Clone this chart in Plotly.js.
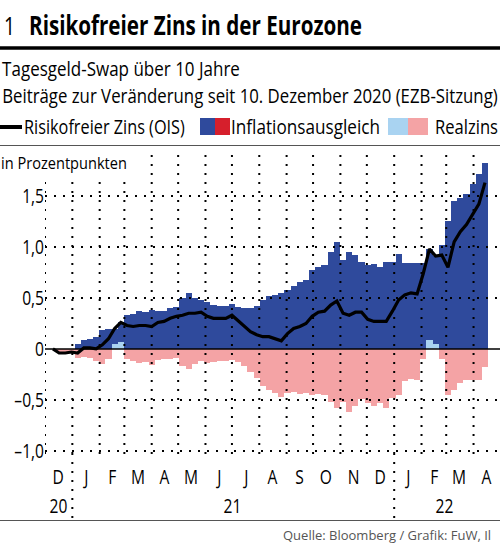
<!DOCTYPE html>
<html>
<head>
<meta charset="utf-8">
<script src="https://cdn.plot.ly/plotly-3.0.1.min.js"></script>
<style>
html,body{margin:0;padding:0;background:#fff;}
#chart{width:500px;height:545px;}
</style>
</head>
<body>
<div id="chart"></div>
<script>
// ---------- data ----------
const dates = ['2020-12-10','2020-12-17','2020-12-24','2020-12-31','2021-01-07','2021-01-14','2021-01-21','2021-01-28','2021-02-04','2021-02-11','2021-02-18','2021-02-25','2021-03-04','2021-03-11','2021-03-18','2021-03-25','2021-04-01','2021-04-08','2021-04-15','2021-04-22','2021-04-29','2021-05-06','2021-05-13','2021-05-20','2021-05-27','2021-06-03','2021-06-10','2021-06-17','2021-06-24','2021-07-01','2021-07-08','2021-07-15','2021-07-22','2021-07-29','2021-08-05','2021-08-12','2021-08-19','2021-08-26','2021-09-02','2021-09-09','2021-09-16','2021-09-23','2021-09-30','2021-10-07','2021-10-14','2021-10-21','2021-10-28','2021-11-04','2021-11-11','2021-11-18','2021-11-25','2021-12-02','2021-12-09','2021-12-16','2021-12-23','2021-12-30','2022-01-06','2022-01-13','2022-01-20','2022-01-27','2022-02-03','2022-02-10','2022-02-17','2022-02-24','2022-03-03','2022-03-10','2022-03-17','2022-03-24','2022-03-31','2022-04-07','2022-04-14'];

const inflation = [0.00,0.00,-0.01,-0.01,0.05,0.09,0.10,0.12,0.19,0.20,0.15,0.19,0.33,0.34,0.37,0.36,0.38,0.37,0.37,0.40,0.41,0.50,0.55,0.50,0.48,0.46,0.43,0.42,0.42,0.44,0.41,0.40,0.40,0.42,0.48,0.52,0.53,0.55,0.58,0.62,0.66,0.68,0.77,0.80,0.82,0.95,1.05,0.87,0.95,0.92,0.85,0.82,0.83,0.80,0.85,0.85,0.93,0.84,0.84,0.84,0.84,0.89,0.86,1.02,1.25,1.45,1.48,1.52,1.62,1.72,1.82];

const realzins = [0.00,-0.04,-0.03,-0.02,-0.09,-0.08,-0.09,-0.12,-0.15,-0.10,0.05,0.07,-0.10,-0.12,-0.14,-0.13,-0.16,-0.11,-0.10,-0.10,-0.09,-0.17,-0.20,-0.15,-0.12,-0.14,-0.13,-0.12,-0.12,-0.11,-0.13,-0.17,-0.23,-0.28,-0.36,-0.40,-0.43,-0.47,-0.43,-0.42,-0.44,-0.43,-0.45,-0.44,-0.45,-0.52,-0.58,-0.52,-0.62,-0.56,-0.49,-0.53,-0.56,-0.53,-0.58,-0.48,-0.45,-0.31,-0.29,-0.30,-0.10,0.09,0.05,-0.10,-0.45,-0.40,-0.33,-0.30,-0.30,-0.30,-0.18];

const ois = [0.00,-0.04,-0.04,-0.03,-0.04,0.01,0.01,0.00,0.04,0.10,0.20,0.26,0.23,0.22,0.23,0.23,0.22,0.26,0.27,0.30,0.32,0.33,0.35,0.35,0.36,0.32,0.30,0.30,0.30,0.33,0.28,0.23,0.17,0.14,0.12,0.12,0.10,0.08,0.15,0.20,0.22,0.25,0.32,0.36,0.37,0.43,0.47,0.35,0.33,0.36,0.36,0.29,0.27,0.27,0.27,0.37,0.48,0.53,0.55,0.54,0.74,0.98,0.91,0.92,0.80,1.05,1.15,1.22,1.32,1.42,1.63];

const yTickVals = [-1.0,-0.5,0,0.5,1.0,1.5];
const yTickText = ['\u20131,0','\u20130,5','0','0,5','1,0','1,5'];
const monthStarts = ['2020-12-01','2021-01-01','2021-02-01','2021-03-01','2021-04-01','2021-05-01','2021-06-01','2021-07-01','2021-08-01','2021-09-01','2021-10-01','2021-11-01','2021-12-01','2022-01-01','2022-02-01','2022-03-01','2022-04-01'];
const monthMids = ['2020-12-16','2021-01-16','2021-02-15','2021-03-16','2021-04-16','2021-05-16','2021-06-16','2021-07-16','2021-08-16','2021-09-16','2021-10-16','2021-11-16','2021-12-16','2022-01-16','2022-02-15','2022-03-16','2022-04-16'];
const monthLabels = ['D','J','F','M','A','M','J','J','A','S','O','N','D','J','F','M','A'];
const yearLabels = ['20','21','22'];
const yearPos = ['2020-12-16','2021-07-02','2022-02-27'];
const yearBreaks = ['2021-01-01','2022-01-01'];

// ---------- styling ----------
const FONT = "'Open Sans', 'Noto Sans', sans-serif";
const BLUE = '#2f4a9c', RED = '#d61f2c', LBLUE = '#a9d3f1', PINK = '#f4a3a5';
const W = 500, H = 545, ML = 45, MR = 0, MT = 148, MB = 91;
const PW = W - ML - MR, PH = H - MT - MB;
const px = x => (x - ML) / PW;
const py = y => (H - MB - y) / PH;
const DOT = '2px,7px';
const CONDENSE = 0.78;

const shapes = [];
monthStarts.forEach(d => shapes.push({type:'line', xref:'x', yref:'paper', x0:d, x1:d, y0:0, y1:1,
  line:{color:'#000', width:2, dash:DOT}, layer:'above'}));
yearBreaks.forEach(d => shapes.push({type:'line', xref:'x', yref:'paper', x0:d, x1:d, y0:py(518), y1:0,
  line:{color:'#000', width:2, dash:DOT}, layer:'above'}));
yTickVals.filter(v => v !== 0).forEach(v => shapes.push({type:'line', xref:'paper', yref:'y', x0:0, x1:1, y0:v, y1:v,
  line:{color:'#000', width:2, dash:DOT}, layer:'above'}));
shapes.push({type:'line', xref:'paper', yref:'y', x0:0, x1:1, y0:0, y1:0, line:{color:'#000', width:1.6}, layer:'above'});
shapes.push({type:'line', xref:'paper', yref:'paper', x0:px(0), x1:px(500), y0:py(48), y1:py(48), line:{color:'#000', width:3.5}});
shapes.push({type:'line', xref:'paper', yref:'paper', x0:px(0), x1:px(500), y0:py(145.5), y1:py(145.5), line:{color:'#555', width:1}});
shapes.push({type:'line', xref:'paper', yref:'paper', x0:px(0), x1:px(500), y0:py(520.5), y1:py(520.5), line:{color:'#555', width:1}});
shapes.push({type:'line', xref:'paper', yref:'paper', x0:px(0), x1:px(22), y0:py(127), y1:py(127), line:{color:'#000', width:4}});
[[200,215,BLUE],[215,230,RED],[388,408,LBLUE],[408,428,PINK]].forEach(s => shapes.push({type:'rect', xref:'paper', yref:'paper',
  x0:px(s[0]), x1:px(s[1]), y0:py(135), y1:py(118), fillcolor:s[2], line:{width:0}}));

const ann = [];
const fit = [];   // per annotation: target width in px (left-anchored) or a scale factor (centered)
function txt(text, x, y, size, width, opts) {
  ann.push(Object.assign({text:text, xref:'paper', yref:'paper', x:px(x), y:py(y), xanchor:'left', yanchor:'middle',
    showarrow:false, font:{family:FONT, size:size, color:'#000'}}, opts || {}));
  fit.push(width ? {w:width} : null);
}
txt('1', 2, 25, 26, 11);
txt('<b>Risikofreier Zins in der Eurozone</b>', 27, 25, 26, 333);
txt('Tagesgeld-Swap über 10 Jahre', 0, 68, 20, 238);
txt('Beiträge zur Veränderung seit 10. Dezember 2020 (EZB-Sitzung)', 0, 96, 20, 496);
txt('Risikofreier Zins (OIS)', 22, 126, 20, 161);
txt('Inflationsausgleich', 229, 126, 20, 149);
txt('Realzins', 433, 126, 20, 63);
txt('in Prozentpunkten', -1, 163, 16, 126, {bgcolor:'#fff'});
txt('Quelle: Bloomberg / Grafik: FuW, Il', 281, 535, 13, null, {font:{family:"'Open Sans', 'DejaVu Sans', sans-serif", size:13, color:'#555'}});
monthLabels.forEach((m, i) => { ann.push({text:m, xref:'x', yref:'paper', x:monthMids[i], y:py(476), xanchor:'center', yanchor:'middle',
  showarrow:false, font:{family:FONT, size:20, color:'#000'}}); fit.push({s:CONDENSE}); });
yearLabels.forEach((m, i) => { ann.push({text:m, xref:'x', yref:'paper', x:yearPos[i], y:py(505), xanchor:'center', yanchor:'middle',
  showarrow:false, font:{family:FONT, size:20, color:'#000'}}); fit.push({s:CONDENSE}); });

const traces = [
  {type:'bar', name:'Realzins', x:dates, y:realzins, marker:{color:realzins.map(v => v >= 0 ? LBLUE : PINK), line:{width:0}}, hoverinfo:'skip'},
  {type:'bar', name:'Inflationsausgleich', x:dates, y:inflation, marker:{color:inflation.map(v => v >= 0 ? BLUE : RED), line:{width:0}}, hoverinfo:'skip'},
  {type:'scatter', mode:'lines', name:'Risikofreier Zins (OIS)', x:dates, y:ois, line:{color:'#000', width:3.2}, hoverinfo:'skip'}
];

const layout = {
  width:W, height:H, margin:{l:ML, r:MR, t:MT, b:MB, pad:0},
  paper_bgcolor:'#fff', plot_bgcolor:'#fff',
  barmode:'relative', bargap:0, showlegend:false,
  font:{family:FONT, size:19, color:'#000'},
  xaxis:{type:'date', range:['2020-12-01','2022-05-01'], showgrid:false, zeroline:false, showline:false,
    showticklabels:false, ticks:'', fixedrange:true},
  yaxis:{range:[-1.03,1.97], tickmode:'array', tickvals:yTickVals, ticktext:yTickText, showgrid:false, zeroline:false,
    showline:false, ticks:'', tickfont:{family:FONT, size:20, color:'#000'}, fixedrange:true},
  shapes:shapes, annotations:ann
};

// squeeze text horizontally (the reference uses a condensed typeface)
function squeeze(el, s, anchor) {
  const bb = el.getBBox();
  const ax = anchor === 'left' ? bb.x : anchor === 'right' ? bb.x + bb.width : bb.x + bb.width / 2;
  const prev = el.getAttribute('transform') || '';
  el.setAttribute('transform', (prev + ' translate(' + ax + ',0) scale(' + s + ',1) translate(' + (-ax) + ',0)').trim());
}

Plotly.newPlot('chart', traces, layout, {staticPlot:true, displayModeBar:false}).then(() => {
  const groups = document.querySelectorAll('#chart .annotation');
  groups.forEach((g, i) => {
    const f = fit[i];
    const t = g.querySelector('text.annotation-text');
    if (!f || !t) return;
    if (f.w) { const bb = t.getBBox(); squeeze(t, f.w / bb.width, 'left'); }
    else if (f.s) squeeze(t, f.s, 'center');
  });
  document.querySelectorAll('#chart .ytick text').forEach(t => squeeze(t, CONDENSE, 'right'));
});
</script>
</body>
</html>
